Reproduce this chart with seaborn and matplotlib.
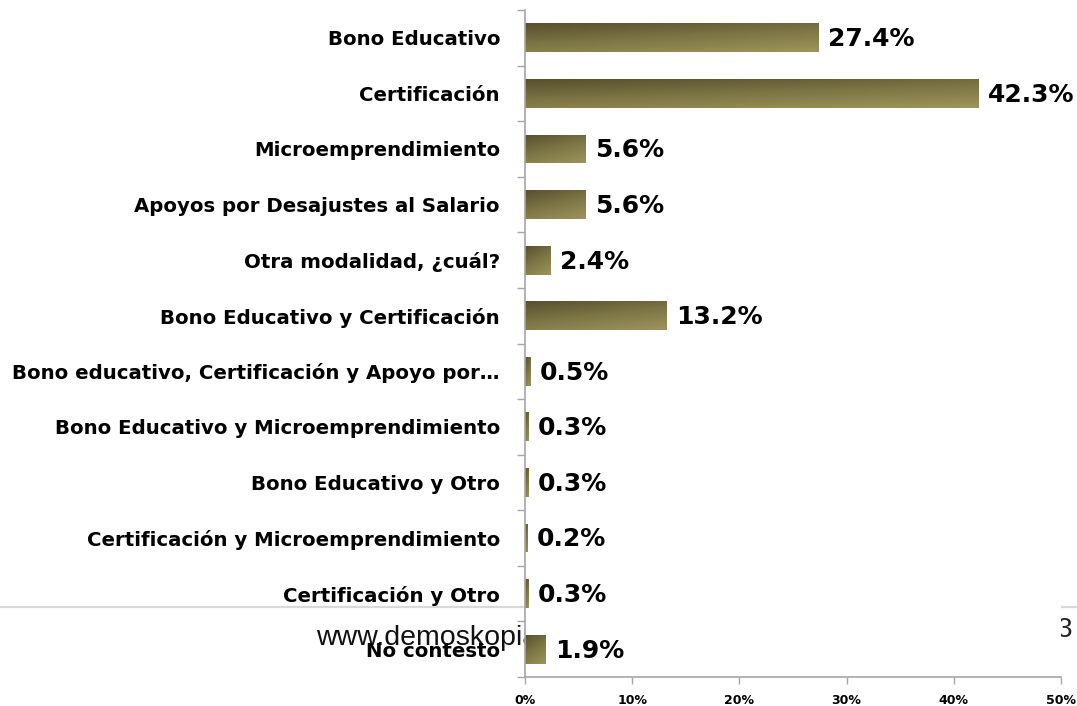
import numpy as np
import pandas as pd
import matplotlib
matplotlib.use('Agg')
import matplotlib.pyplot as plt
from matplotlib.colors import LinearSegmentedColormap
from matplotlib.lines import Line2D
from matplotlib.ticker import FixedLocator, PercentFormatter
import seaborn as sns

# Data
categories = [
    'Bono Educativo',
    'Certificación',
    'Microemprendimiento',
    'Apoyos por Desajustes al Salario',
    'Otra modalidad, ¿cuál?',
    'Bono Educativo y Certificación',
    'Bono educativo, Certificación y Apoyo por…',
    'Bono Educativo y Microemprendimiento',
    'Bono Educativo y Otro',
    'Certificación y Microemprendimiento',
    'Certificación y Otro',
    'No contesto',
]
values = [27.4, 42.3, 5.6, 5.6, 2.4, 13.2, 0.5, 0.3, 0.3, 0.2, 0.3, 1.9]
x_ticks = [0, 10, 20, 30, 40, 50]
footer_text = 'www.demoskopia.com.mx'
page_num = '3'

df = pd.DataFrame({'modalidad': categories, 'pct': values})

sns.set_style('white')
plt.rcParams['font.family'] = ['DejaVu Sans']
plt.rcParams['text.color'] = 'black'

fig = plt.figure(figsize=(10.77, 7.06), dpi=100)
ax = fig.add_axes([525 / 1077, 1 - 677 / 706, (1061 - 525) / 1077, (677 - 10) / 706])

sns.barplot(data=df, x='pct', y='modalidad', orient='h', width=0.52,
            color='#7d7545', edgecolor='none', ax=ax)

# gradient fill like the original (dark top-left -> light bottom-right)
cmap = LinearSegmentedColormap.from_list('olive', ['#57502e', '#7d7645', '#9e945b'])
gy, gx = np.mgrid[0:1:40j, 0:1:200j]
grad = 0.65 * gy + 0.35 * gx
for bar in ax.patches:
    x0, y0 = bar.get_x(), bar.get_y()
    w, h = bar.get_width(), bar.get_height()
    im = ax.imshow(grad, cmap=cmap, vmin=0, vmax=1, aspect='auto',
                   extent=(x0, x0 + w, y0 + h, y0), origin='upper',
                   interpolation='bilinear', zorder=2)
    im.set_clip_path(bar)

ax.set_xlim(0, 50)
ax.set_ylim(len(categories) - 0.5, -0.5)

# value labels
for i, v in enumerate(values):
    ax.annotate(f'{v:.1f}%', xy=(v, i), xytext=(7, -1), textcoords='offset points',
                ha='left', va='center', fontsize=18, fontweight='bold', color='black')

ax.set_xlabel('')
ax.set_ylabel('')
ax.xaxis.set_major_locator(FixedLocator(x_ticks))
ax.xaxis.set_major_formatter(PercentFormatter(decimals=0))
ax.set_yticks(range(len(categories)))
ax.set_yticklabels(categories, fontsize=14.2, fontweight='bold', color='black')
ax.yaxis.set_minor_locator(FixedLocator(np.arange(-0.5, len(categories), 1)))
ax.tick_params(axis='y', which='major', length=0, pad=18)
ax.tick_params(axis='y', which='minor', left=True, length=6, width=1, color='#a6a6a6', direction='out')
ax.tick_params(axis='x', which='major', bottom=True, length=5, width=1, color='#a6a6a6',
               direction='out', pad=7, labelsize=9, labelcolor='black')
for lab in ax.get_xticklabels():
    lab.set_fontweight('bold')

for side in ['top', 'right']:
    ax.spines[side].set_visible(False)
for side in ['left', 'bottom']:
    ax.spines[side].set_color('#a6a6a6')
    ax.spines[side].set_linewidth(1.2)
ax.set_facecolor('white')

# slide footer showing behind the chart (hidden where the plot area sits)
yl = 1 - 607 / 706
for xa, xb in [(0, 524 / 1077), (1061 / 1077, 1)]:
    fig.add_artist(Line2D([xa, xb], [yl, yl], transform=fig.transFigure,
                          color='#d9d9d9', lw=1.6, zorder=-1))
fig.text(316 / 1077, 1 - 645 / 706, footer_text, fontsize=20.5, family='Liberation Sans',
         va='baseline', ha='left', color='#111111', zorder=-1)
fig.text(1057 / 1077, 1 - 637 / 706, page_num, fontsize=20, family='Liberation Sans',
         va='baseline', ha='left', color='#222222', zorder=-1)

fig.savefig('out.png', dpi=100)
